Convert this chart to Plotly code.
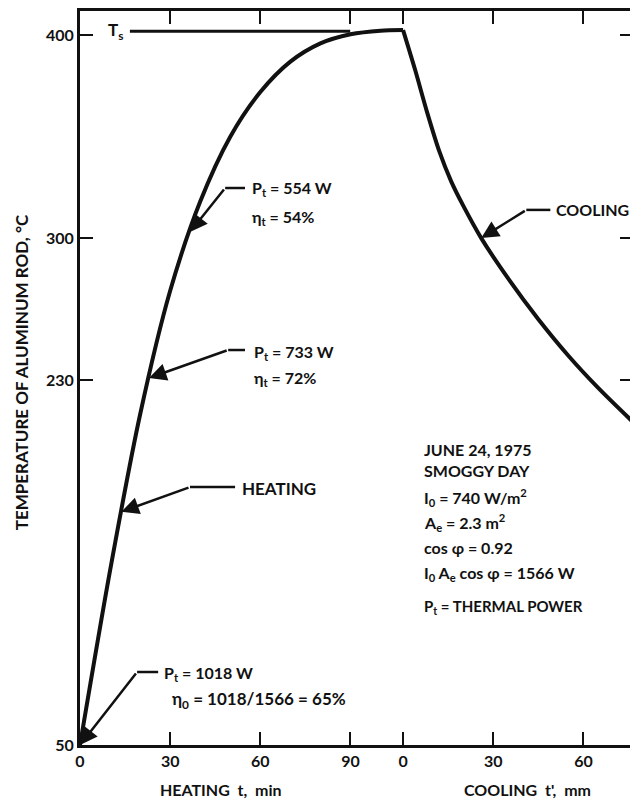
import numpy as np
import plotly.graph_objects as go

# ---------------- data ----------------
HEAT_T = [0, 10, 20, 30, 40, 50, 60, 70, 80, 90, 100, 107.5]                    # heating time, min
HEAT_TEMP = [50, 136, 213, 274, 318, 350, 372, 387, 396, 400.5, 402.3, 402.6]  # deg C

COOL_T = [0, 4, 8, 12, 16, 20, 26, 35, 45, 55, 65, 76]                          # cooling time, min
COOL_TEMP = [402.6, 383, 362, 343, 328, 316, 300, 280, 260, 242, 226, 210]

COOL_OFFSET = 107.5        # cooling axis origin placed at end of heating
HEAT_TICKS = [0, 30, 60, 90]
COOL_TICKS = [0, 30, 60]
Y_TICKS = [50, 230, 300, 400]
T_S = 402

FONT = "Lato"
INK = "#111111"

fig = go.Figure()
fig.add_trace(go.Scatter(x=HEAT_T, y=HEAT_TEMP, mode="lines",
                         line=dict(color=INK, width=4, shape="spline", smoothing=0.8),
                         showlegend=False, hoverinfo="skip"))
fig.add_trace(go.Scatter(x=[t + COOL_OFFSET for t in COOL_T], y=COOL_TEMP, mode="lines",
                         line=dict(color=INK, width=4, shape="spline", smoothing=0.8),
                         showlegend=False, hoverinfo="skip"))
# invisible trace so the right-side tick axis is drawn
fig.add_trace(go.Scatter(x=[None], y=[None], yaxis="y2", showlegend=False, hoverinfo="skip"))

tickvals = HEAT_TICKS + [c + COOL_OFFSET for c in COOL_TICKS]
ticktext = [str(v) for v in HEAT_TICKS] + [str(v) for v in COOL_TICKS]

tickfont = dict(family=FONT, size=16, color=INK, weight="bold")

fig.update_layout(
    width=630, height=804,
    margin=dict(l=80, r=0, t=11, b=59),
    plot_bgcolor="white", paper_bgcolor="white",
    xaxis=dict(range=[0, 183], tickvals=tickvals, ticktext=ticktext,
               ticks="inside", ticklen=13, tickwidth=2, tickcolor=INK,
               showline=True, linewidth=3, linecolor=INK, mirror="ticks",
               showgrid=False, zeroline=False, tickfont=tickfont),
    yaxis=dict(range=[50, 412], tickvals=Y_TICKS,
               ticks="inside", ticklen=13, tickwidth=2, tickcolor=INK,
               showline=True, linewidth=3, linecolor=INK,
               showgrid=False, zeroline=False, tickfont=tickfont),
    yaxis2=dict(range=[50, 412], tickvals=Y_TICKS, overlaying="y", side="right",
                ticks="inside", ticklen=10, tickwidth=2, tickcolor=INK,
                showticklabels=False, showline=False, showgrid=False, zeroline=False),
)

# T_s reference line
fig.add_shape(type="line", x0=16.6, x1=89.9, y0=T_S, y1=T_S, xref="x", yref="y",
              line=dict(color=INK, width=3))

ann = []
def txt(x, y, s, size=16, xanchor="left", xref="x", yref="y", angle=0):
    ann.append(dict(x=x, y=y, xref=xref, yref=yref, text=s, showarrow=False,
                    xanchor=xanchor, yanchor="middle", textangle=angle,
                    font=dict(family=FONT, size=size, color=INK, weight="bold")))

def elbow_arrow(tip_x, tip_y, ex, ey, hx):
    fig.add_shape(type="line", x0=ex, x1=hx, y0=ey, y1=ey, xref="x", yref="y",
                  line=dict(color=INK, width=2.5))
    ann.append(dict(x=tip_x, y=tip_y, ax=ex, ay=ey, xref="x", yref="y",
                    axref="x", ayref="y", text="", showarrow=True,
                    arrowhead=2, arrowsize=1.4, arrowwidth=2.5, arrowcolor=INK,
                    standoff=0))

txt(8.6, T_S, "T<sub>s</sub>", size=17)

# P_t = 554 W
t1 = 303
elbow_arrow(float(np.interp(t1, HEAT_TEMP, HEAT_T)), t1, 48.3, 324.7, 54.9)
txt(56.6, 324.7, "P<sub>t</sub> = 554 W")
txt(56.6, 310.4, "η<sub>t</sub> = 54%")

# P_t = 733 W
t2 = 231
elbow_arrow(float(np.interp(t2, HEAT_TEMP, HEAT_T)), t2, 49.3, 244.8, 54.9)
txt(57.2, 243.8, "P<sub>t</sub> = 733 W")
txt(57.2, 231, "η<sub>t</sub> = 72%")

# HEATING
t3 = 165
elbow_arrow(float(np.interp(t3, HEAT_TEMP, HEAT_T)), t3, 36.6, 177.2, 51.6)
txt(53.2, 176.7, "HEATING", size=17)

# P_t = 1018 W
elbow_arrow(HEAT_T[0], HEAT_TEMP[0], 19, 86, 26)
txt(27.3, 85.5, "P<sub>t</sub> = 1018 W")
txt(29.9, 72.2, "η<sub>0</sub> = 1018/1566 = 65%", size=17)

# COOLING
t4 = 300
elbow_arrow(float(np.interp(-t4, [-v for v in COOL_TEMP], COOL_T)) + COOL_OFFSET, t4,
            148.5, 313.9, 156.5)
txt(157.6, 313.9, "COOLING", size=16)

# info block
bx = 113.8
txt(bx, 195.8, "JUNE 24, 1975", size=16)
txt(bx, 185.4, "SMOGGY DAY", size=16)
txt(bx, 172.3, "I<sub>0</sub> = 740 W/m<sup>2</sup>", size=16)
txt(bx, 159.5, "A<sub>e</sub> = 2.3 m<sup>2</sup>", size=16)
txt(bx, 147.2, "cos φ = 0.92", size=16)
txt(bx, 134.8, "I<sub>0</sub> A<sub>e</sub> cos φ = 1566 W", size=16)
txt(bx, 118, "P<sub>t</sub> = THERMAL POWER", size=15)

# axis titles
txt(46.9, -0.0613, "HEATING  t,  min", size=16, xanchor="center", yref="paper")
txt(148.8, -0.0613, "COOLING  t',  mm", size=16, xanchor="center", yref="paper")
txt(-0.107, 0.508, "TEMPERATURE OF ALUMINUM ROD, °C", size=17, xanchor="center",
    xref="paper", yref="paper", angle=-90)

fig.update_layout(annotations=ann)
fig.write_html("out.html")
